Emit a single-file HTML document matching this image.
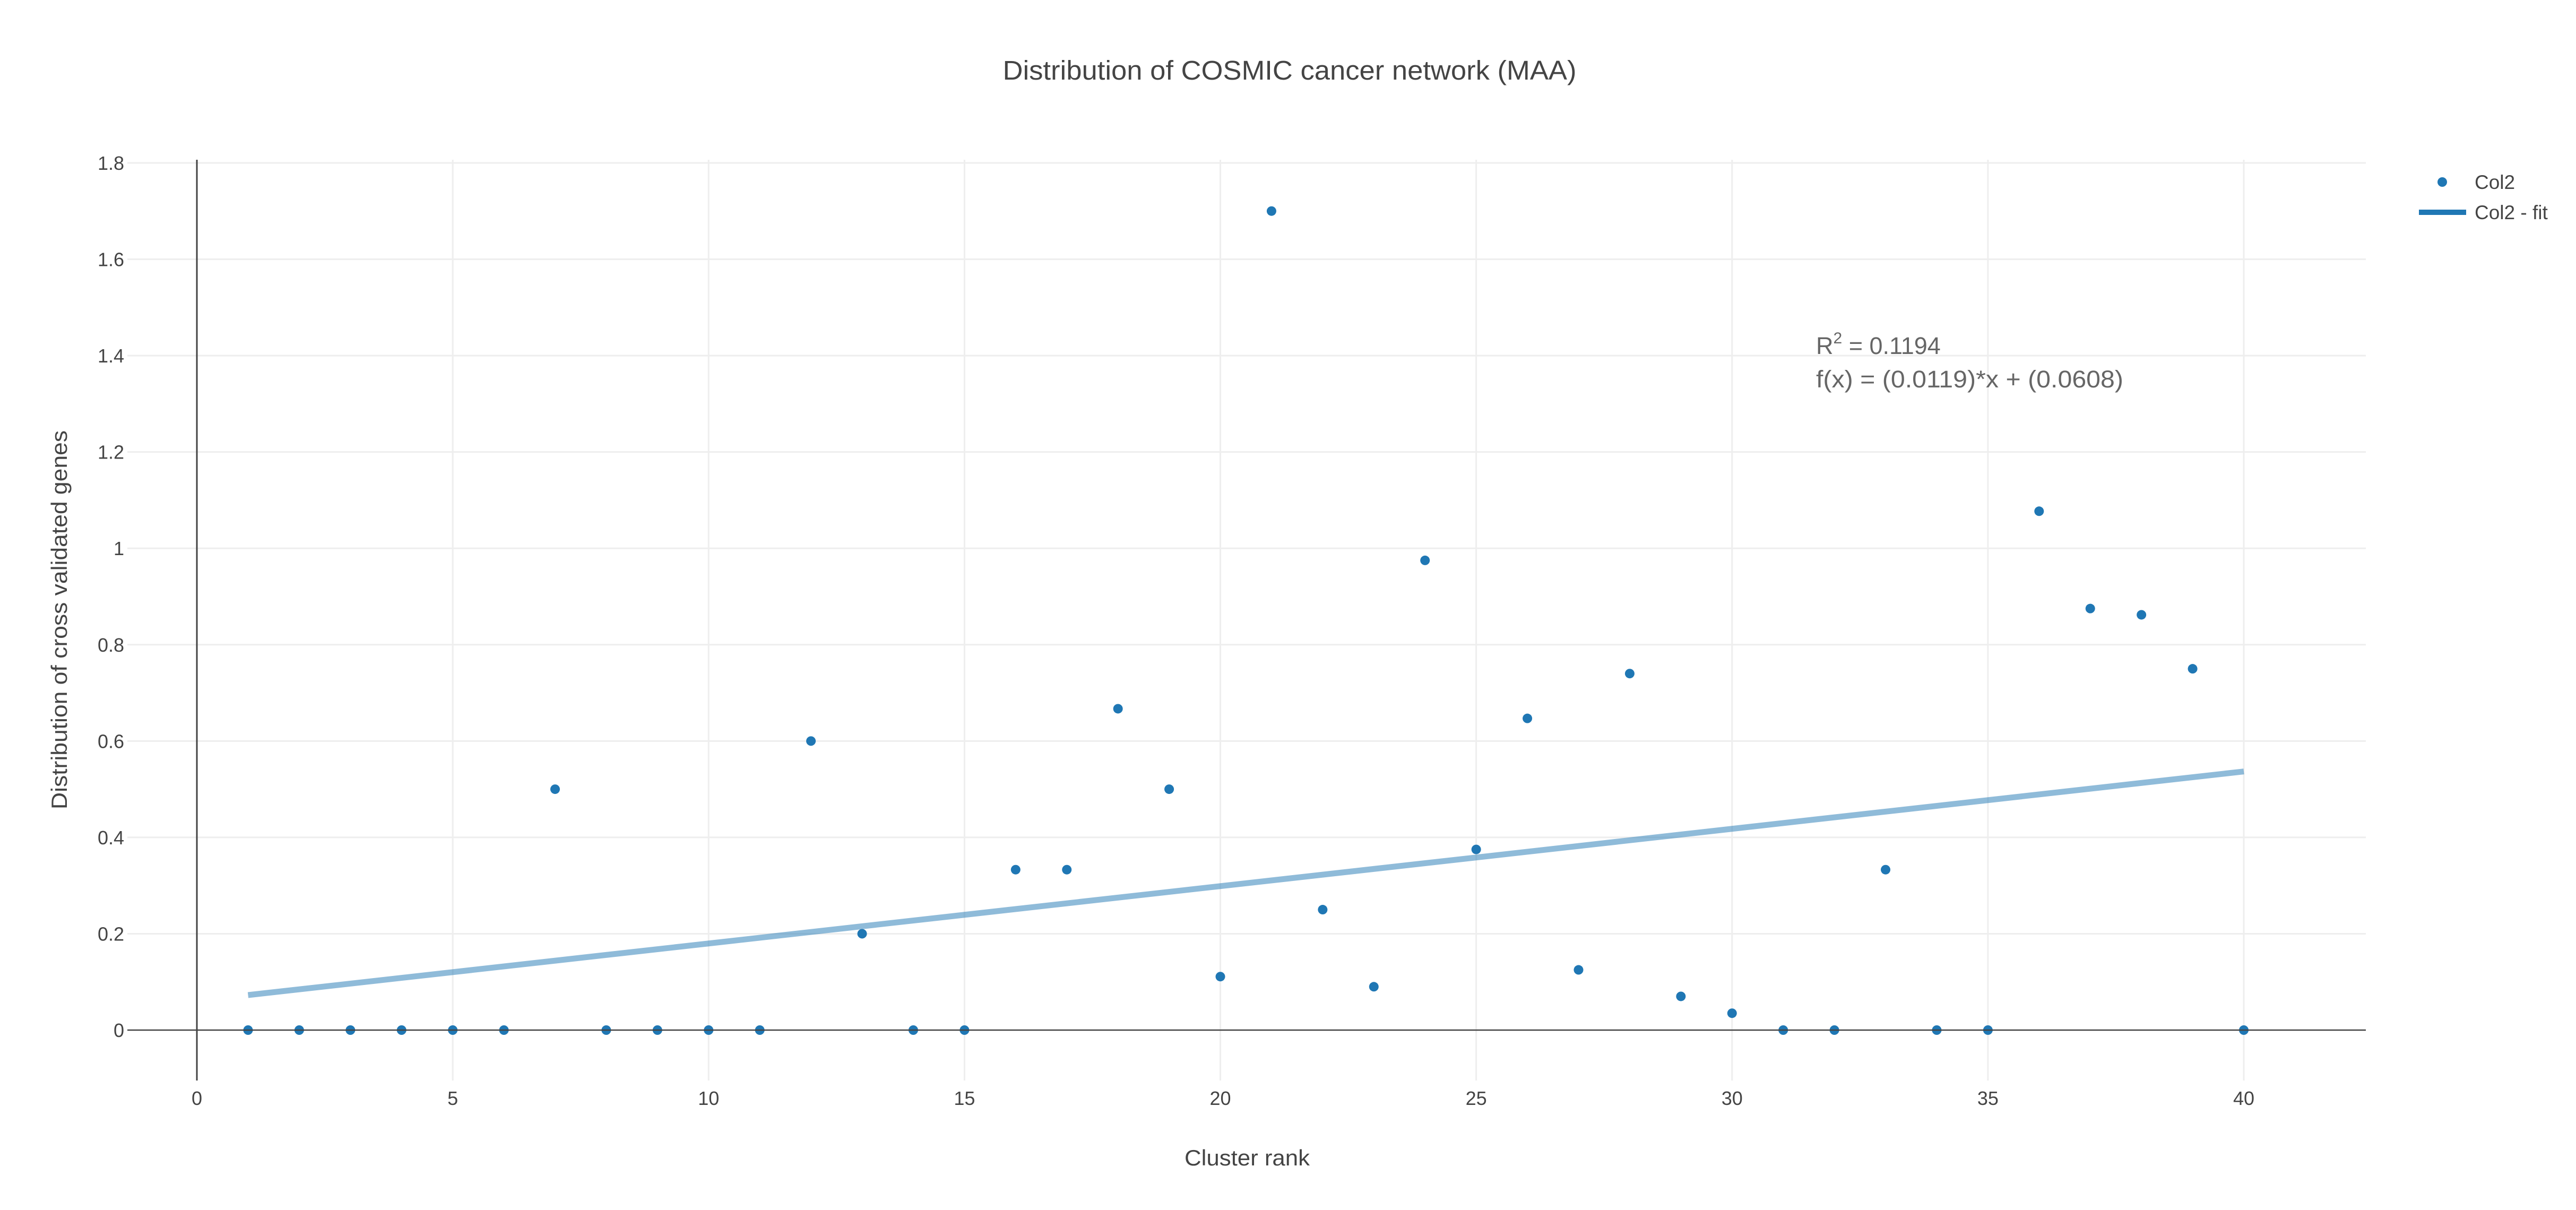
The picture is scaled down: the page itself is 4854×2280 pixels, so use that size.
<!DOCTYPE html>
<html><head><meta charset="utf-8"><style>
html,body{margin:0;padding:0;background:#fff;}
svg{display:block;font-family:"Liberation Sans",sans-serif;}
</style></head><body>
<svg id="chart" width="4854" height="2280" viewBox="0 0 4854 2280" xmlns="http://www.w3.org/2000/svg">
<rect width="4854" height="2280" fill="#fff"/>
<g id="grid"></g>
<g id="fit"></g>
<g id="pts"></g>
<g id="axes"></g>
<text x="2430" y="150" text-anchor="middle" font-size="51" fill="#444" textLength="1081" lengthAdjust="spacingAndGlyphs">Distribution of COSMIC cancer network (MAA)</text>
<text x="2350" y="2196" text-anchor="middle" font-size="42" fill="#444" textLength="236" lengthAdjust="spacingAndGlyphs">Cluster rank</text>
<text transform="translate(126,1168) rotate(-90)" text-anchor="middle" font-size="42" fill="#444" textLength="714" lengthAdjust="spacingAndGlyphs">Distribution of cross validated genes</text>
<g fill="#666" font-size="45">
<text x="3422" y="667">R<tspan font-size="30" dy="-20">2</tspan><tspan dy="20"> = 0.1194</tspan></text>
<text x="3422" y="730" textLength="579" lengthAdjust="spacingAndGlyphs">f(x) = (0.0119)*x + (0.0608)</text>
</g>
<g>
<g>
<circle cx="4602" cy="343" r="9" fill="#1f77b4"/>
<text x="4663" y="356" font-size="37" fill="#444">Col2</text>
</g>
<g>
<line x1="4558" y1="400" x2="4647" y2="400" stroke="#1f77b4" stroke-width="10"/>
<text x="4663" y="413" font-size="37" fill="#444">Col2 - fit</text>
</g>
</g>
</svg>
<script>
const xs = [1,2,3,4,5,6,7,8,9,10,11,12,13,14,15,16,17,18,19,20,21,22,23,24,25,26,27,28,29,30,31,32,33,34,35,36,37,38,39,40];
const ys = [0,0,0,0,0,0,0.5,0,0,0,0,0.6,0.2,0,0,0.333,0.333,0.667,0.5,0.111,1.7,0.25,0.09,0.975,0.375,0.647,0.125,0.74,0.07,0.035,0,0,0.333,0,0,1.077,0.875,0.862,0.75,0];
const fitSlope = 0.0119;
const fitIntercept = 0.0608;
const xTicks = [0,5,10,15,20,25,30,35,40];
const yTicks = [0,0.2,0.4,0.6,0.8,1,1.2,1.4,1.6,1.8];
const yTickLabels = ["0","0.2","0.4","0.6","0.8","1","1.2","1.4","1.6","1.8"];

const L=240,R=4458,T=301,B=2036;
const X=v=>371+v*96.425;
const Y=v=>1941-v*907.8;
const NS="http://www.w3.org/2000/svg";
function mk(tag,attrs,parent){const e=document.createElementNS(NS,tag);for(const k in attrs)e.setAttribute(k,attrs[k]);parent.appendChild(e);return e;}
const grid=document.getElementById('grid'),axes=document.getElementById('axes'),fit=document.getElementById('fit'),pts=document.getElementById('pts');
yTicks.forEach((v,i)=>{
  if(v!==0){const g=mk('line',{x1:L,x2:R,y1:Y(v),y2:Y(v),stroke:'#eee','stroke-width':3},grid);
  
  }
  const t=mk('text',{x:234,y:Y(v)+13,'text-anchor':'end','font-size':36,fill:'#444'},axes);
  t.textContent=yTickLabels[i];
  
  
});
xTicks.forEach(v=>{
  if(v!==0){const g=mk('line',{x1:X(v),x2:X(v),y1:T,y2:B,stroke:'#eee','stroke-width':3},grid);
  
  }
  const t=mk('text',{x:X(v),y:2082,'text-anchor':'middle','font-size':36,fill:'#444'},axes);
  t.textContent=String(v);
  
  
});
const zl=mk('line',{x1:L,x2:R,y1:Y(0),y2:Y(0),stroke:'#444','stroke-width':2.5},axes);


const ya=mk('line',{x1:X(0),x2:X(0),y1:T,y2:B,stroke:'#444','stroke-width':3},axes);


const x0=xs[0],x1=xs[xs.length-1];
const fl=mk('line',{x1:X(x0),y1:Y(fitSlope*x0+fitIntercept),x2:X(x1),y2:Y(fitSlope*x1+fitIntercept),stroke:'rgba(31,119,180,0.5)','stroke-width':11},fit);


xs.forEach((x,i)=>{
  const c=mk('circle',{cx:X(x),cy:Y(ys[i]),r:9,fill:'#1f77b4'},pts);
  
  
});
</script>
</body></html>
